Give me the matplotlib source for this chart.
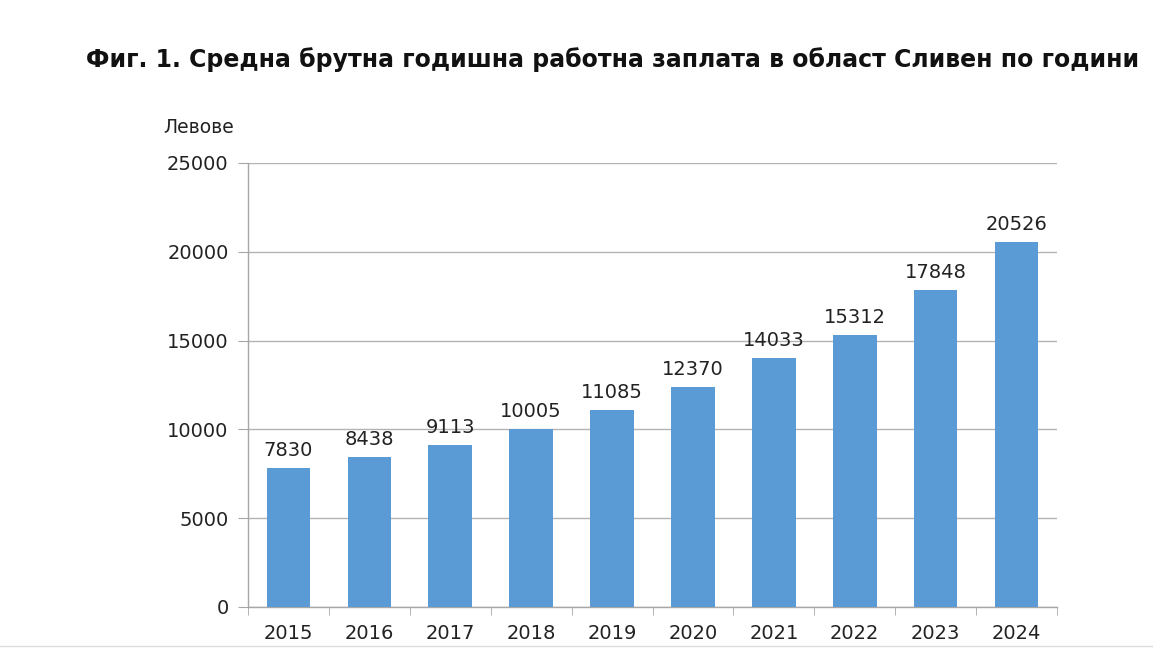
import numpy as np
import matplotlib.pyplot as plt
from matplotlib.lines import Line2D

years = ['2015', '2016', '2017', '2018', '2019', '2020', '2021', '2022', '2023', '2024']
wages = [7830, 8438, 9113, 10005, 11085, 12370, 14033, 15312, 17848, 20526]

plt.rcParams['font.family'] = ['DejaVu Sans']

fig = plt.figure(figsize=(11.53, 6.48), dpi=100)
ax = fig.add_axes([248/1153, 41/648, 809/1153, 444/648])

x = np.arange(len(years))
bars = ax.bar(x, wages, width=0.54, color='#5B9BD5', zorder=3)

for xi, v in zip(x, wages):
    ax.text(xi, v + 450, str(v), ha='center', va='bottom', fontsize=14, color='#222222')

ax.set_xlim(-0.5, len(years) - 0.5)
ax.set_ylim(0, 25000)
ax.set_yticks(np.arange(0, 25001, 5000))
ax.set_yticklabels([str(t) for t in range(0, 25001, 5000)], fontsize=14, color='#222222')
ax.set_xticks(x)
ax.set_xticklabels(years, fontsize=14, color='#222222')
ax.set_xticks(np.arange(-0.5, len(years)), minor=True)

ax.tick_params(axis='x', which='major', length=0, pad=12)
ax.tick_params(axis='x', which='minor', length=6, color='#A6A6A6', direction='out')
ax.tick_params(axis='y', length=7, color='#A6A6A6', pad=7)

ax.grid(axis='y', color='#B3B3B3', linewidth=1.0, zorder=0)
for s in ['top', 'right']:
    ax.spines[s].set_visible(False)
for s in ['left', 'bottom']:
    ax.spines[s].set_color('#A6A6A6')
    ax.spines[s].set_linewidth(1.0)

ax.text(-0.105, 1.08, 'Левове', transform=ax.transAxes, ha='left', va='center',
        fontsize=13.5, color='#222222')

fig.text(613/1153, 1 - 60/648, 'Фиг. 1. Средна брутна годишна работна заплата в област Сливен по години',
         ha='center', va='center', fontsize=17, fontweight='bold', color='#111111')

fig.add_artist(Line2D([0, 1], [2/648, 2/648], color='#DDDDDD', linewidth=1.0))

fig.savefig('out.png', dpi=100)
